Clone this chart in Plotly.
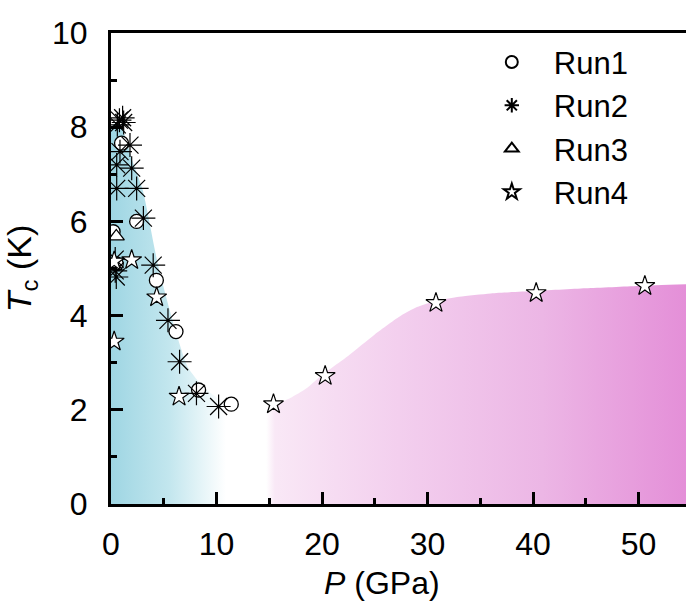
import plotly.graph_objects as go

# ---- data ----
run1_p = [1.0, 2.43, 0.2, 4.3, 6.16, 8.3, 11.4, 0.5]
run1_t = [7.66, 6.0, 5.78, 4.75, 3.66, 2.42, 2.12, 5.1]

run2_p = [0.6, 0.8, 1.1, 1.2, 1.8, 0.85, 0.54, 1.96, 0.54, 2.43, 3.07, 4.0, 5.4, 6.5, 8.1, 10.2, 0.4, 0.4, 0.5]
run2_t = [8.05, 8.15, 8.2, 8.1, 7.62, 7.48, 7.2, 7.13, 6.7, 6.7, 6.07, 5.07, 3.9, 3.02, 2.35, 2.07, 5.2, 4.95, 4.82]

run3_p = [0.5, 0.3]
run3_t = [5.68, 5.05]

run4_p = [0.3, 1.96, 4.33, 6.45, 15.4, 20.3, 30.8, 40.3, 50.6, 0.3]
run4_t = [3.45, 5.18, 4.39, 2.28, 2.12, 2.72, 4.27, 4.48, 4.63, 5.15]

# phase-region boundary (upper edge of the shaded area)
bound_p = [0, 0.5, 1.1, 2.0, 3.0, 4.5, 6.1, 7.3, 8.5, 9.4, 10.5, 12.2, 14.0, 15.5, 17.0, 18.5, 20.0,
           22.5, 25.0, 27.5, 29.0, 31.0, 33.0, 36.0, 40.0, 45.0, 50.0, 55.0]
bound_t = [8.0, 8.1, 7.94, 7.3, 6.67, 5.03, 3.69, 2.9, 2.55, 2.36, 2.2, 2.08, 2.07, 2.12, 2.25, 2.45, 2.74,
           3.15, 3.6, 4.0, 4.18, 4.32, 4.4, 4.47, 4.52, 4.58, 4.63, 4.67]

XMAX = 54.5

fig = go.Figure()

fig.add_trace(go.Scatter(
    x=bound_p, y=bound_t, mode="lines", fill="tozeroy",
    line=dict(width=0, shape="spline", smoothing=0.6),
    fillgradient=dict(type="horizontal", start=0, stop=XMAX,
                      colorscale=[[0.0, "#9fd6e3"], [0.1, "#c2e6ee"], [0.2, "#ffffff"],
                                  [0.27, "#ffffff"], [0.285, "#f9e8f6"], [0.5, "#f3cfee"],
                                  [0.75, "#ecb6e5"], [1.0, "#e48fd8"]]),
    showlegend=False, hoverinfo="skip"))

fig.add_trace(go.Scatter(
    x=run1_p, y=run1_t, mode="markers", name="Run1",
    marker=dict(symbol="circle", size=14, color="white", line=dict(color="black", width=1.3))))
fig.add_trace(go.Scatter(
    x=run2_p, y=run2_t, mode="markers", name="Run2",
    marker=dict(symbol="asterisk-open", size=20, color="black", line=dict(color="black", width=1.2))))
fig.add_trace(go.Scatter(
    x=run3_p, y=run3_t, mode="markers", name="Run3",
    marker=dict(symbol="triangle-up", size=14, color="white", line=dict(color="black", width=1.3))))
fig.add_trace(go.Scatter(
    x=run4_p, y=run4_t, mode="markers", name="Run4",
    marker=dict(symbol="star", size=15, color="white", line=dict(color="black", width=1.2))))

font = "Liberation Sans, Arial, sans-serif"

fig.update_layout(
    width=686, height=604,
    margin=dict(l=111, r=0, t=33, b=100),
    paper_bgcolor="white", plot_bgcolor="white",
    font=dict(family=font, color="black", size=30),
    legend=dict(x=0.624, y=0.995, xanchor="left", yanchor="top",
                font=dict(size=31, family=font), bgcolor="rgba(0,0,0,0)",
                tracegroupgap=0, itemsizing="constant", itemwidth=74),
    xaxis=dict(range=[0, XMAX], tickmode="linear", tick0=0, dtick=10,
               ticks="inside", ticklen=12, tickwidth=3, tickcolor="black",
               showline=True, linewidth=3, linecolor="black", mirror=True,
               showgrid=False, zeroline=False,
               minor=dict(dtick=5, ticks="inside", ticklen=6, tickwidth=3, tickcolor="black"),
               tickfont=dict(size=32), ticklabelstandoff=10),
    yaxis=dict(range=[0, 10], tickmode="linear", tick0=0, dtick=2,
               ticks="inside", ticklen=12, tickwidth=3, tickcolor="black",
               showline=True, linewidth=3, linecolor="black",
               showgrid=False, zeroline=False,
               minor=dict(dtick=1, ticks="inside", ticklen=6, tickwidth=3, tickcolor="black"),
               tickfont=dict(size=32), ticklabelstandoff=14,
               title=dict(text="<i>T</i><sub>c</sub> (K)", font=dict(size=34), standoff=12)),
    annotations=[dict(text="<i>P</i> (GPa)", xref="paper", yref="paper",
                      x=0.471, y=-0.168, xanchor="center", yanchor="middle",
                      showarrow=False, font=dict(size=32, family=font, color="black"))],
)

fig.write_html("out.html")
